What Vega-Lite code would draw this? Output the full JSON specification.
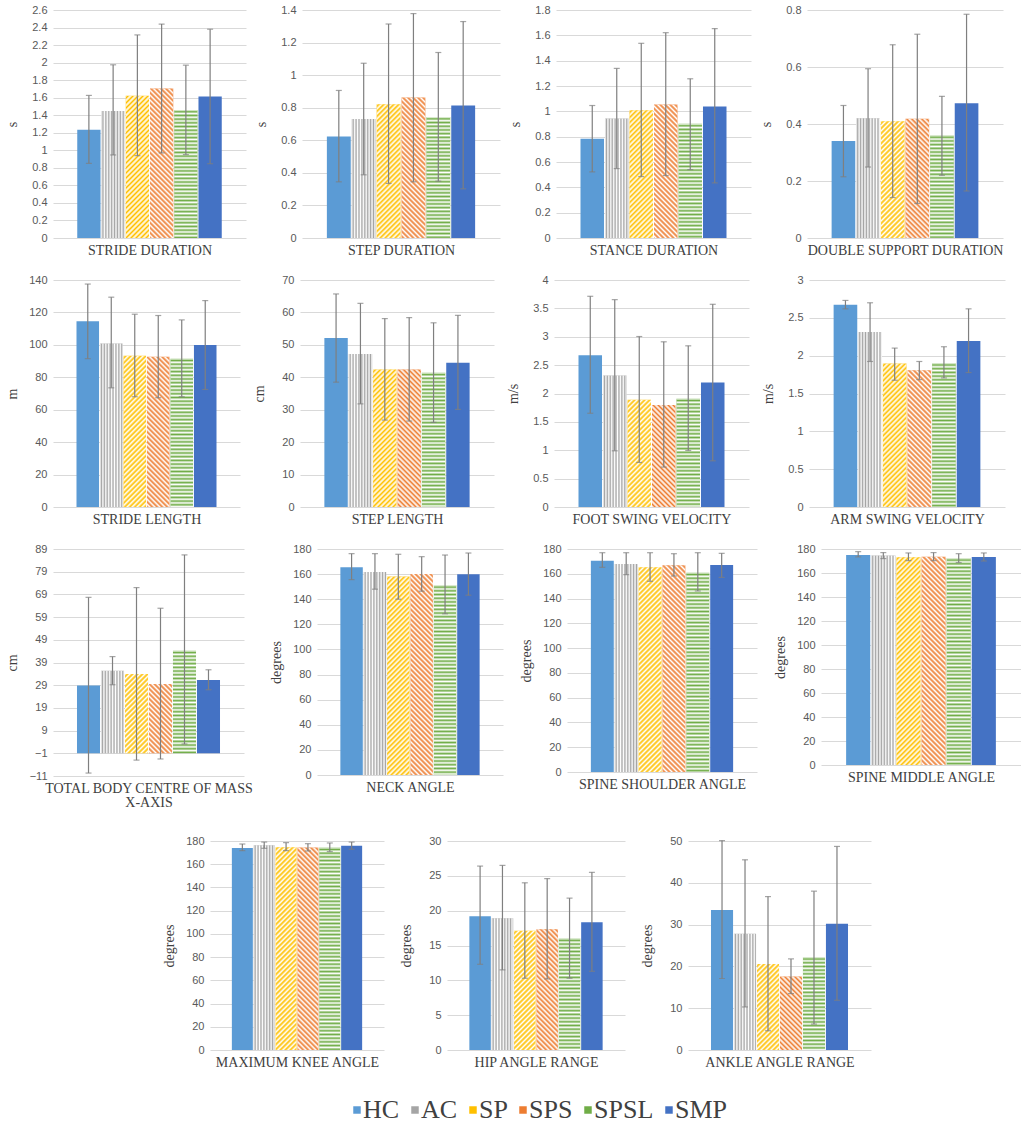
{
  "$schema": "https://vega.github.io/schema/vega-lite/v6.json",
  "background": "white",
  "padding": {"left": 5, "top": 4, "right": 5, "bottom": 5},
  "params": [
    {
      "name": "st",
      "value": [
        {"offset":0,"color":"#fff"},{"offset":0.005,"color":"rgba(255,255,255,0)"},{"offset":0.01,"color":"#fff"},{"offset":0.015,"color":"rgba(255,255,255,0)"},{"offset":0.02,"color":"#fff"},{"offset":0.025,"color":"rgba(255,255,255,0)"},{"offset":0.03,"color":"#fff"},{"offset":0.035,"color":"rgba(255,255,255,0)"},{"offset":0.04,"color":"#fff"},{"offset":0.045,"color":"rgba(255,255,255,0)"},
        {"offset":0.05,"color":"#fff"},{"offset":0.055,"color":"rgba(255,255,255,0)"},{"offset":0.06,"color":"#fff"},{"offset":0.065,"color":"rgba(255,255,255,0)"},{"offset":0.07,"color":"#fff"},{"offset":0.075,"color":"rgba(255,255,255,0)"},{"offset":0.08,"color":"#fff"},{"offset":0.085,"color":"rgba(255,255,255,0)"},{"offset":0.09,"color":"#fff"},{"offset":0.095,"color":"rgba(255,255,255,0)"},
        {"offset":0.1,"color":"#fff"},{"offset":0.105,"color":"rgba(255,255,255,0)"},{"offset":0.11,"color":"#fff"},{"offset":0.115,"color":"rgba(255,255,255,0)"},{"offset":0.12,"color":"#fff"},{"offset":0.125,"color":"rgba(255,255,255,0)"},{"offset":0.13,"color":"#fff"},{"offset":0.135,"color":"rgba(255,255,255,0)"},{"offset":0.14,"color":"#fff"},{"offset":0.145,"color":"rgba(255,255,255,0)"},
        {"offset":0.15,"color":"#fff"},{"offset":0.155,"color":"rgba(255,255,255,0)"},{"offset":0.16,"color":"#fff"},{"offset":0.165,"color":"rgba(255,255,255,0)"},{"offset":0.17,"color":"#fff"},{"offset":0.175,"color":"rgba(255,255,255,0)"},{"offset":0.18,"color":"#fff"},{"offset":0.185,"color":"rgba(255,255,255,0)"},{"offset":0.19,"color":"#fff"},{"offset":0.195,"color":"rgba(255,255,255,0)"},
        {"offset":0.2,"color":"#fff"},{"offset":0.205,"color":"rgba(255,255,255,0)"},{"offset":0.21,"color":"#fff"},{"offset":0.215,"color":"rgba(255,255,255,0)"},{"offset":0.22,"color":"#fff"},{"offset":0.225,"color":"rgba(255,255,255,0)"},{"offset":0.23,"color":"#fff"},{"offset":0.235,"color":"rgba(255,255,255,0)"},{"offset":0.24,"color":"#fff"},{"offset":0.245,"color":"rgba(255,255,255,0)"},
        {"offset":0.25,"color":"#fff"},{"offset":0.255,"color":"rgba(255,255,255,0)"},{"offset":0.26,"color":"#fff"},{"offset":0.265,"color":"rgba(255,255,255,0)"},{"offset":0.27,"color":"#fff"},{"offset":0.275,"color":"rgba(255,255,255,0)"},{"offset":0.28,"color":"#fff"},{"offset":0.285,"color":"rgba(255,255,255,0)"},{"offset":0.29,"color":"#fff"},{"offset":0.295,"color":"rgba(255,255,255,0)"},
        {"offset":0.3,"color":"#fff"},{"offset":0.305,"color":"rgba(255,255,255,0)"},{"offset":0.31,"color":"#fff"},{"offset":0.315,"color":"rgba(255,255,255,0)"},{"offset":0.32,"color":"#fff"},{"offset":0.325,"color":"rgba(255,255,255,0)"},{"offset":0.33,"color":"#fff"},{"offset":0.335,"color":"rgba(255,255,255,0)"},{"offset":0.34,"color":"#fff"},{"offset":0.345,"color":"rgba(255,255,255,0)"},
        {"offset":0.35,"color":"#fff"},{"offset":0.355,"color":"rgba(255,255,255,0)"},{"offset":0.36,"color":"#fff"},{"offset":0.365,"color":"rgba(255,255,255,0)"},{"offset":0.37,"color":"#fff"},{"offset":0.375,"color":"rgba(255,255,255,0)"},{"offset":0.38,"color":"#fff"},{"offset":0.385,"color":"rgba(255,255,255,0)"},{"offset":0.39,"color":"#fff"},{"offset":0.395,"color":"rgba(255,255,255,0)"},
        {"offset":0.4,"color":"#fff"},{"offset":0.405,"color":"rgba(255,255,255,0)"},{"offset":0.41,"color":"#fff"},{"offset":0.415,"color":"rgba(255,255,255,0)"},{"offset":0.42,"color":"#fff"},{"offset":0.425,"color":"rgba(255,255,255,0)"},{"offset":0.43,"color":"#fff"},{"offset":0.435,"color":"rgba(255,255,255,0)"},{"offset":0.44,"color":"#fff"},{"offset":0.445,"color":"rgba(255,255,255,0)"},
        {"offset":0.45,"color":"#fff"},{"offset":0.455,"color":"rgba(255,255,255,0)"},{"offset":0.46,"color":"#fff"},{"offset":0.465,"color":"rgba(255,255,255,0)"},{"offset":0.47,"color":"#fff"},{"offset":0.475,"color":"rgba(255,255,255,0)"},{"offset":0.48,"color":"#fff"},{"offset":0.485,"color":"rgba(255,255,255,0)"},{"offset":0.49,"color":"#fff"},{"offset":0.495,"color":"rgba(255,255,255,0)"},
        {"offset":0.5,"color":"#fff"},{"offset":0.505,"color":"rgba(255,255,255,0)"},{"offset":0.51,"color":"#fff"},{"offset":0.515,"color":"rgba(255,255,255,0)"},{"offset":0.52,"color":"#fff"},{"offset":0.525,"color":"rgba(255,255,255,0)"},{"offset":0.53,"color":"#fff"},{"offset":0.535,"color":"rgba(255,255,255,0)"},{"offset":0.54,"color":"#fff"},{"offset":0.545,"color":"rgba(255,255,255,0)"},
        {"offset":0.55,"color":"#fff"},{"offset":0.555,"color":"rgba(255,255,255,0)"},{"offset":0.56,"color":"#fff"},{"offset":0.565,"color":"rgba(255,255,255,0)"},{"offset":0.57,"color":"#fff"},{"offset":0.575,"color":"rgba(255,255,255,0)"},{"offset":0.58,"color":"#fff"},{"offset":0.585,"color":"rgba(255,255,255,0)"},{"offset":0.59,"color":"#fff"},{"offset":0.595,"color":"rgba(255,255,255,0)"},
        {"offset":0.6,"color":"#fff"},{"offset":0.605,"color":"rgba(255,255,255,0)"},{"offset":0.61,"color":"#fff"},{"offset":0.615,"color":"rgba(255,255,255,0)"},{"offset":0.62,"color":"#fff"},{"offset":0.625,"color":"rgba(255,255,255,0)"},{"offset":0.63,"color":"#fff"},{"offset":0.635,"color":"rgba(255,255,255,0)"},{"offset":0.64,"color":"#fff"},{"offset":0.645,"color":"rgba(255,255,255,0)"},
        {"offset":0.65,"color":"#fff"},{"offset":0.655,"color":"rgba(255,255,255,0)"},{"offset":0.66,"color":"#fff"},{"offset":0.665,"color":"rgba(255,255,255,0)"},{"offset":0.67,"color":"#fff"},{"offset":0.675,"color":"rgba(255,255,255,0)"},{"offset":0.68,"color":"#fff"},{"offset":0.685,"color":"rgba(255,255,255,0)"},{"offset":0.69,"color":"#fff"},{"offset":0.695,"color":"rgba(255,255,255,0)"},
        {"offset":0.7,"color":"#fff"},{"offset":0.705,"color":"rgba(255,255,255,0)"},{"offset":0.71,"color":"#fff"},{"offset":0.715,"color":"rgba(255,255,255,0)"},{"offset":0.72,"color":"#fff"},{"offset":0.725,"color":"rgba(255,255,255,0)"},{"offset":0.73,"color":"#fff"},{"offset":0.735,"color":"rgba(255,255,255,0)"},{"offset":0.74,"color":"#fff"},{"offset":0.745,"color":"rgba(255,255,255,0)"},
        {"offset":0.75,"color":"#fff"},{"offset":0.755,"color":"rgba(255,255,255,0)"},{"offset":0.76,"color":"#fff"},{"offset":0.765,"color":"rgba(255,255,255,0)"},{"offset":0.77,"color":"#fff"},{"offset":0.775,"color":"rgba(255,255,255,0)"},{"offset":0.78,"color":"#fff"},{"offset":0.785,"color":"rgba(255,255,255,0)"},{"offset":0.79,"color":"#fff"},{"offset":0.795,"color":"rgba(255,255,255,0)"},
        {"offset":0.8,"color":"#fff"},{"offset":0.805,"color":"rgba(255,255,255,0)"},{"offset":0.81,"color":"#fff"},{"offset":0.815,"color":"rgba(255,255,255,0)"},{"offset":0.82,"color":"#fff"},{"offset":0.825,"color":"rgba(255,255,255,0)"},{"offset":0.83,"color":"#fff"},{"offset":0.835,"color":"rgba(255,255,255,0)"},{"offset":0.84,"color":"#fff"},{"offset":0.845,"color":"rgba(255,255,255,0)"},
        {"offset":0.85,"color":"#fff"},{"offset":0.855,"color":"rgba(255,255,255,0)"},{"offset":0.86,"color":"#fff"},{"offset":0.865,"color":"rgba(255,255,255,0)"},{"offset":0.87,"color":"#fff"},{"offset":0.875,"color":"rgba(255,255,255,0)"},{"offset":0.88,"color":"#fff"},{"offset":0.885,"color":"rgba(255,255,255,0)"},{"offset":0.89,"color":"#fff"},{"offset":0.895,"color":"rgba(255,255,255,0)"},
        {"offset":0.9,"color":"#fff"},{"offset":0.905,"color":"rgba(255,255,255,0)"},{"offset":0.91,"color":"#fff"},{"offset":0.915,"color":"rgba(255,255,255,0)"},{"offset":0.92,"color":"#fff"},{"offset":0.925,"color":"rgba(255,255,255,0)"},{"offset":0.93,"color":"#fff"},{"offset":0.935,"color":"rgba(255,255,255,0)"},{"offset":0.94,"color":"#fff"},{"offset":0.945,"color":"rgba(255,255,255,0)"},
        {"offset":0.95,"color":"#fff"},{"offset":0.955,"color":"rgba(255,255,255,0)"},{"offset":0.96,"color":"#fff"},{"offset":0.965,"color":"rgba(255,255,255,0)"},{"offset":0.97,"color":"#fff"},{"offset":0.975,"color":"rgba(255,255,255,0)"},{"offset":0.98,"color":"#fff"},{"offset":0.985,"color":"rgba(255,255,255,0)"},{"offset":0.99,"color":"#fff"},{"offset":0.995,"color":"rgba(255,255,255,0)"},
        {"offset":1,"color":"#fff"}
      ]
    }
  ],
  "config": {
    "view": {"stroke": null},
    "axisY": {"domain": false, "ticks": false, "grid": true, "gridColor": "#d9d9d9", "tickCount": 50, "labelColor": "#595959", "labelFont": "Liberation Sans", "labelFontSize": 11, "labelPadding": 6, "labelOverlap": false, "minExtent": 24, "maxExtent": 24, "titleFont": "Liberation Serif", "titleFontSize": 14, "titleFontWeight": "normal", "titleColor": "#404040", "titlePadding": 10},
    "axisX": {"domain": false, "ticks": false, "labels": false, "grid": false, "minExtent": 0, "maxExtent": 0, "titleFont": "Liberation Serif", "titleFontSize": 14, "titleFontWeight": "normal", "titleColor": "#404040", "titlePadding": 5, "titleLineHeight": 14},
    "legend": {"orient": "none", "direction": "horizontal", "gridAlign": "none", "symbolType": "square", "symbolSize": 56, "symbolStrokeWidth": 0, "labelFont": "Liberation Serif", "labelFontSize": 26, "labelColor": "#404040", "labelOffset": -7, "columnPadding": 2}
  },
  "spacing": 26,
  "resolve": {"scale": {"x": "independent", "y": "independent"}},
  "vconcat": [
    {
      "spacing": 17,
      "resolve": {"scale": {"x": "independent", "y": "independent"}},
      "vconcat": [
    {
      "spacing": 8,
      "resolve": {"scale": {"x": "independent", "y": "independent"}},
      "hconcat": [
        {
          "width": 193, "height": 228,
          "data": {"values": [
            {"g":"HC","m":1.235,"lo":0.851,"hi":1.626},
            {"g":"AC","m":1.449,"lo":0.947,"hi":1.975},
            {"g":"SP","m":1.622,"lo":0.939,"hi":2.316},
            {"g":"SPS","m":1.706,"lo":0.970,"hi":2.439},
            {"g":"SPSL","m":1.461,"lo":0.951,"hi":1.971},
            {"g":"SMP","m":1.614,"lo":0.847,"hi":2.381}
          ]},
          "encoding": {"x": {"field":"g","type":"nominal","scale":{"domain":["HC","AC","SP","SPS","SPSL","SMP"],"paddingInner":0.04,"paddingOuter":1},"axis":{"title":"STRIDE DURATION"}}},
          "layer": [
            {"mark":"bar","encoding":{"y":{"field":"m","type":"quantitative","scale":{"domain":[0,2.6],"nice":false},"axis":{"title":"s","format":".10~g","values":[0,0.2,0.4,0.6,0.8,1,1.2,1.4,1.6,1.8,2,2.2,2.4,2.6]}},
              "color":{"field":"g","type":"nominal","scale":{"domain":["HC","AC","SP","SPS","SPSL","SMP"],"range":["#5b9bd5","#a5a5a5","#ffc000","#ed7d31","#70ad47","#4472c4"]},
                "legend":{"orient":"none","legendX":291,"legendY":1087,"direction":"horizontal","title":null,"gridAlign":"none","symbolType":"square","symbolSize":56,"symbolStrokeWidth":0,"labelFont":"Liberation Serif","labelFontSize":26,"labelColor":"#404040","labelOffset":-7,"columnPadding":2}}}},
            {"mark":{"type":"bar","fill":{"expr":"datum.g=='AC'?{gradient:'linear',x1:0,y1:0,x2:12.457,y2:0,stops:st}:datum.g=='SPSL'?{gradient:'linear',x1:0,y1:0,x2:0,y2:370/(datum.m*87.69),stops:st}:datum.g=='SP'?{gradient:'linear',x1:0,y1:0,x2:11640/(541.96+pow(datum.m*87.69,2)),y2:500*(datum.m*87.69)/(541.96+pow(datum.m*87.69,2)),stops:st}:datum.g=='SPS'?{gradient:'linear',x1:1,y1:0,x2:1-11640/(541.96+pow(datum.m*87.69,2)),y2:500*(datum.m*87.69)/(541.96+pow(datum.m*87.69,2)),stops:st}:'transparent'"}},
              "encoding":{"y":{"field":"m","type":"quantitative","scale":{"domain":[0,2.6],"nice":false}}}},
            {"mark":{"type":"rule","color":"#7f7f7f","strokeWidth":1.2},"encoding":{"y":{"field":"lo","type":"quantitative","scale":{"domain":[0,2.6],"nice":false}},"y2":{"field":"hi"}}},
            {"mark":{"type":"tick","color":"#7f7f7f","size":6,"thickness":1.2},"encoding":{"y":{"field":"lo","type":"quantitative","scale":{"domain":[0,2.6],"nice":false}}}},
            {"mark":{"type":"tick","color":"#7f7f7f","size":6,"thickness":1.2},"encoding":{"y":{"field":"hi","type":"quantitative","scale":{"domain":[0,2.6],"nice":false}}}}
          ]
        },
        {
          "width": 198, "height": 228,
          "data": {"values": [
            {"g":"HC","m":0.624,"lo":0.345,"hi":0.906},
            {"g":"AC","m":0.731,"lo":0.388,"hi":1.073},
            {"g":"SP","m":0.822,"lo":0.335,"hi":1.314},
            {"g":"SPS","m":0.863,"lo":0.345,"hi":1.378},
            {"g":"SPSL","m":0.743,"lo":0.349,"hi":1.139},
            {"g":"SMP","m":0.814,"lo":0.302,"hi":1.329}
          ]},
          "encoding": {"x": {"field":"g","type":"nominal","scale":{"domain":["HC","AC","SP","SPS","SPSL","SMP"],"paddingInner":0.04,"paddingOuter":1},"axis":{"title":"STEP DURATION"}}},
          "layer": [
            {"mark":"bar","encoding":{"y":{"field":"m","type":"quantitative","scale":{"domain":[0,1.4],"nice":false},"axis":{"title":"s","format":".10~g","values":[0,0.2,0.4,0.6,0.8,1,1.2,1.4]}},
              "color":{"field":"g","type":"nominal","scale":{"domain":["HC","AC","SP","SPS","SPSL","SMP"],"range":["#5b9bd5","#a5a5a5","#ffc000","#ed7d31","#70ad47","#4472c4"]},"legend":null}}},
            {"mark":{"type":"bar","fill":{"expr":"datum.g=='AC'?{gradient:'linear',x1:0,y1:0,x2:12.144,y2:0,stops:st}:datum.g=='SPSL'?{gradient:'linear',x1:0,y1:0,x2:0,y2:370/(datum.m*162.86),stops:st}:datum.g=='SP'?{gradient:'linear',x1:0,y1:0,x2:11940/(570.25+pow(datum.m*162.86,2)),y2:500*(datum.m*162.86)/(570.25+pow(datum.m*162.86,2)),stops:st}:datum.g=='SPS'?{gradient:'linear',x1:1,y1:0,x2:1-11940/(570.25+pow(datum.m*162.86,2)),y2:500*(datum.m*162.86)/(570.25+pow(datum.m*162.86,2)),stops:st}:'transparent'"}},
              "encoding":{"y":{"field":"m","type":"quantitative","scale":{"domain":[0,1.4],"nice":false}}}},
            {"mark":{"type":"rule","color":"#7f7f7f","strokeWidth":1.2},"encoding":{"y":{"field":"lo","type":"quantitative","scale":{"domain":[0,1.4],"nice":false}},"y2":{"field":"hi"}}},
            {"mark":{"type":"tick","color":"#7f7f7f","size":6,"thickness":1.2},"encoding":{"y":{"field":"lo","type":"quantitative","scale":{"domain":[0,1.4],"nice":false}}}},
            {"mark":{"type":"tick","color":"#7f7f7f","size":6,"thickness":1.2},"encoding":{"y":{"field":"hi","type":"quantitative","scale":{"domain":[0,1.4],"nice":false}}}}
          ]
        },
        {
          "width": 195, "height": 228,
          "data": {"values": [
            {"g":"HC","m":0.783,"lo":0.522,"hi":1.046},
            {"g":"AC","m":0.944,"lo":0.548,"hi":1.339},
            {"g":"SP","m":1.009,"lo":0.485,"hi":1.537},
            {"g":"SPS","m":1.054,"lo":0.493,"hi":1.621},
            {"g":"SPSL","m":0.901,"lo":0.540,"hi":1.257},
            {"g":"SMP","m":1.038,"lo":0.435,"hi":1.653}
          ]},
          "encoding": {"x": {"field":"g","type":"nominal","scale":{"domain":["HC","AC","SP","SPS","SPSL","SMP"],"paddingInner":0.04,"paddingOuter":1},"axis":{"title":"STANCE DURATION"}}},
          "layer": [
            {"mark":"bar","encoding":{"y":{"field":"m","type":"quantitative","scale":{"domain":[0,1.8],"nice":false},"axis":{"title":"s","format":".10~g","values":[0,0.2,0.4,0.6,0.8,1,1.2,1.4,1.6,1.8]}},
              "color":{"field":"g","type":"nominal","scale":{"domain":["HC","AC","SP","SPS","SPSL","SMP"],"range":["#5b9bd5","#a5a5a5","#ffc000","#ed7d31","#70ad47","#4472c4"]},"legend":null}}},
            {"mark":{"type":"bar","fill":{"expr":"datum.g=='AC'?{gradient:'linear',x1:0,y1:0,x2:12.33,y2:0,stops:st}:datum.g=='SPSL'?{gradient:'linear',x1:0,y1:0,x2:0,y2:370/(datum.m*126.67),stops:st}:datum.g=='SP'?{gradient:'linear',x1:0,y1:0,x2:11760/(553.19+pow(datum.m*126.67,2)),y2:500*(datum.m*126.67)/(553.19+pow(datum.m*126.67,2)),stops:st}:datum.g=='SPS'?{gradient:'linear',x1:1,y1:0,x2:1-11760/(553.19+pow(datum.m*126.67,2)),y2:500*(datum.m*126.67)/(553.19+pow(datum.m*126.67,2)),stops:st}:'transparent'"}},
              "encoding":{"y":{"field":"m","type":"quantitative","scale":{"domain":[0,1.8],"nice":false}}}},
            {"mark":{"type":"rule","color":"#7f7f7f","strokeWidth":1.2},"encoding":{"y":{"field":"lo","type":"quantitative","scale":{"domain":[0,1.8],"nice":false}},"y2":{"field":"hi"}}},
            {"mark":{"type":"tick","color":"#7f7f7f","size":6,"thickness":1.2},"encoding":{"y":{"field":"lo","type":"quantitative","scale":{"domain":[0,1.8],"nice":false}}}},
            {"mark":{"type":"tick","color":"#7f7f7f","size":6,"thickness":1.2},"encoding":{"y":{"field":"hi","type":"quantitative","scale":{"domain":[0,1.8],"nice":false}}}}
          ]
        },
        {
          "width": 196, "height": 228,
          "data": {"values": [
            {"g":"HC","m":0.340,"lo":0.215,"hi":0.465},
            {"g":"AC","m":0.420,"lo":0.249,"hi":0.594},
            {"g":"SP","m":0.410,"lo":0.142,"hi":0.678},
            {"g":"SPS","m":0.418,"lo":0.121,"hi":0.715},
            {"g":"SPSL","m":0.360,"lo":0.220,"hi":0.497},
            {"g":"SMP","m":0.473,"lo":0.165,"hi":0.785}
          ]},
          "encoding": {"x": {"field":"g","type":"nominal","scale":{"domain":["HC","AC","SP","SPS","SPSL","SMP"],"paddingInner":0.04,"paddingOuter":1},"axis":{"title":"DOUBLE SUPPORT DURATION"}}},
          "layer": [
            {"mark":"bar","encoding":{"y":{"field":"m","type":"quantitative","scale":{"domain":[0,0.8],"nice":false},"axis":{"title":"s","format":".10~g","values":[0,0.2,0.4,0.6,0.8]}},
              "color":{"field":"g","type":"nominal","scale":{"domain":["HC","AC","SP","SPS","SPSL","SMP"],"range":["#5b9bd5","#a5a5a5","#ffc000","#ed7d31","#70ad47","#4472c4"]},"legend":null}}},
            {"mark":{"type":"bar","fill":{"expr":"datum.g=='AC'?{gradient:'linear',x1:0,y1:0,x2:12.267,y2:0,stops:st}:datum.g=='SPSL'?{gradient:'linear',x1:0,y1:0,x2:0,y2:370/(datum.m*285),stops:st}:datum.g=='SP'?{gradient:'linear',x1:0,y1:0,x2:11820/(558.85+pow(datum.m*285,2)),y2:500*(datum.m*285)/(558.85+pow(datum.m*285,2)),stops:st}:datum.g=='SPS'?{gradient:'linear',x1:1,y1:0,x2:1-11820/(558.85+pow(datum.m*285,2)),y2:500*(datum.m*285)/(558.85+pow(datum.m*285,2)),stops:st}:'transparent'"}},
              "encoding":{"y":{"field":"m","type":"quantitative","scale":{"domain":[0,0.8],"nice":false}}}},
            {"mark":{"type":"rule","color":"#7f7f7f","strokeWidth":1.2},"encoding":{"y":{"field":"lo","type":"quantitative","scale":{"domain":[0,0.8],"nice":false}},"y2":{"field":"hi"}}},
            {"mark":{"type":"tick","color":"#7f7f7f","size":6,"thickness":1.2},"encoding":{"y":{"field":"lo","type":"quantitative","scale":{"domain":[0,0.8],"nice":false}}}},
            {"mark":{"type":"tick","color":"#7f7f7f","size":6,"thickness":1.2},"encoding":{"y":{"field":"hi","type":"quantitative","scale":{"domain":[0,0.8],"nice":false}}}}
          ]
        }
      ]
    },
    {
      "spacing": 12,
      "resolve": {"scale": {"x": "independent", "y": "independent"}},
      "hconcat": [
        {
          "width": 187, "height": 227,
          "data": {"values": [
            {"g":"HC","m":114.6,"lo":91.5,"hi":137.5},
            {"g":"AC","m":100.9,"lo":73.5,"hi":129.4},
            {"g":"SP","m":93.3,"lo":68.0,"hi":118.9},
            {"g":"SPS","m":92.7,"lo":67.4,"hi":118.1},
            {"g":"SPSL","m":91.5,"lo":68.0,"hi":115.4},
            {"g":"SMP","m":99.9,"lo":72.5,"hi":127.3}
          ]},
          "encoding": {"x": {"field":"g","type":"nominal","scale":{"domain":["HC","AC","SP","SPS","SPSL","SMP"],"paddingInner":0.04,"paddingOuter":1},"axis":{"title":"STRIDE LENGTH"}}},
          "layer": [
            {"mark":"bar","encoding":{"y":{"field":"m","type":"quantitative","scale":{"domain":[0,140],"nice":false},"axis":{"title":"m","format":".10~g","values":[0,20,40,60,80,100,120,140]}},
              "color":{"field":"g","type":"nominal","scale":{"domain":["HC","AC","SP","SPS","SPSL","SMP"],"range":["#5b9bd5","#a5a5a5","#ffc000","#ed7d31","#70ad47","#4472c4"]},"legend":null}}},
            {"mark":{"type":"bar","fill":{"expr":"datum.g=='AC'?{gradient:'linear',x1:0,y1:0,x2:12.86,y2:0,stops:st}:datum.g=='SPSL'?{gradient:'linear',x1:0,y1:0,x2:0,y2:370/(datum.m*1.6214),stops:st}:datum.g=='SP'?{gradient:'linear',x1:0,y1:0,x2:11275/(508.5+pow(datum.m*1.6214,2)),y2:500*(datum.m*1.6214)/(508.5+pow(datum.m*1.6214,2)),stops:st}:datum.g=='SPS'?{gradient:'linear',x1:1,y1:0,x2:1-11275/(508.5+pow(datum.m*1.6214,2)),y2:500*(datum.m*1.6214)/(508.5+pow(datum.m*1.6214,2)),stops:st}:'transparent'"}},
              "encoding":{"y":{"field":"m","type":"quantitative","scale":{"domain":[0,140],"nice":false}}}},
            {"mark":{"type":"rule","color":"#7f7f7f","strokeWidth":1.2},"encoding":{"y":{"field":"lo","type":"quantitative","scale":{"domain":[0,140],"nice":false}},"y2":{"field":"hi"}}},
            {"mark":{"type":"tick","color":"#7f7f7f","size":6,"thickness":1.2},"encoding":{"y":{"field":"lo","type":"quantitative","scale":{"domain":[0,140],"nice":false}}}},
            {"mark":{"type":"tick","color":"#7f7f7f","size":6,"thickness":1.2},"encoding":{"y":{"field":"hi","type":"quantitative","scale":{"domain":[0,140],"nice":false}}}}
          ]
        },
        {
          "width": 194, "height": 227,
          "data": {"values": [
            {"g":"HC","m":52.1,"lo":38.5,"hi":65.7},
            {"g":"AC","m":47.2,"lo":31.8,"hi":62.8},
            {"g":"SP","m":42.4,"lo":26.8,"hi":58.1},
            {"g":"SPS","m":42.4,"lo":26.5,"hi":58.4},
            {"g":"SPSL","m":41.4,"lo":26.1,"hi":56.8},
            {"g":"SMP","m":44.5,"lo":30.1,"hi":59.1}
          ]},
          "encoding": {"x": {"field":"g","type":"nominal","scale":{"domain":["HC","AC","SP","SPS","SPSL","SMP"],"paddingInner":0.04,"paddingOuter":1},"axis":{"title":"STEP LENGTH"}}},
          "layer": [
            {"mark":"bar","encoding":{"y":{"field":"m","type":"quantitative","scale":{"domain":[0,70],"nice":false},"axis":{"title":"cm","format":".10~g","values":[0,10,20,30,40,50,60,70]}},
              "color":{"field":"g","type":"nominal","scale":{"domain":["HC","AC","SP","SPS","SPSL","SMP"],"range":["#5b9bd5","#a5a5a5","#ffc000","#ed7d31","#70ad47","#4472c4"]},"legend":null}}},
            {"mark":{"type":"bar","fill":{"expr":"datum.g=='AC'?{gradient:'linear',x1:0,y1:0,x2:12.393,y2:0,stops:st}:datum.g=='SPSL'?{gradient:'linear',x1:0,y1:0,x2:0,y2:370/(datum.m*3.243),stops:st}:datum.g=='SP'?{gradient:'linear',x1:0,y1:0,x2:11700/(547.56+pow(datum.m*3.243,2)),y2:500*(datum.m*3.243)/(547.56+pow(datum.m*3.243,2)),stops:st}:datum.g=='SPS'?{gradient:'linear',x1:1,y1:0,x2:1-11700/(547.56+pow(datum.m*3.243,2)),y2:500*(datum.m*3.243)/(547.56+pow(datum.m*3.243,2)),stops:st}:'transparent'"}},
              "encoding":{"y":{"field":"m","type":"quantitative","scale":{"domain":[0,70],"nice":false}}}},
            {"mark":{"type":"rule","color":"#7f7f7f","strokeWidth":1.2},"encoding":{"y":{"field":"lo","type":"quantitative","scale":{"domain":[0,70],"nice":false}},"y2":{"field":"hi"}}},
            {"mark":{"type":"tick","color":"#7f7f7f","size":6,"thickness":1.2},"encoding":{"y":{"field":"lo","type":"quantitative","scale":{"domain":[0,70],"nice":false}}}},
            {"mark":{"type":"tick","color":"#7f7f7f","size":6,"thickness":1.2},"encoding":{"y":{"field":"hi","type":"quantitative","scale":{"domain":[0,70],"nice":false}}}}
          ]
        },
        {
          "width": 195, "height": 227,
          "data": {"values": [
            {"g":"HC","m":2.676,"lo":1.652,"hi":3.713},
            {"g":"AC","m":2.319,"lo":0.990,"hi":3.654},
            {"g":"SP","m":1.892,"lo":0.785,"hi":3.004},
            {"g":"SPS","m":1.798,"lo":0.703,"hi":2.911},
            {"g":"SPSL","m":1.909,"lo":0.996,"hi":2.840},
            {"g":"SMP","m":2.196,"lo":0.814,"hi":3.572}
          ]},
          "encoding": {"x": {"field":"g","type":"nominal","scale":{"domain":["HC","AC","SP","SPS","SPSL","SMP"],"paddingInner":0.04,"paddingOuter":1},"axis":{"title":"FOOT SWING VELOCITY"}}},
          "layer": [
            {"mark":"bar","encoding":{"y":{"field":"m","type":"quantitative","scale":{"domain":[0,4],"nice":false},"axis":{"title":"m/s","format":".10~g","values":[0,0.5,1,1.5,2,2.5,3,3.5,4]}},
              "color":{"field":"g","type":"nominal","scale":{"domain":["HC","AC","SP","SPS","SPSL","SMP"],"range":["#5b9bd5","#a5a5a5","#ffc000","#ed7d31","#70ad47","#4472c4"]},"legend":null}}},
            {"mark":{"type":"bar","fill":{"expr":"datum.g=='AC'?{gradient:'linear',x1:0,y1:0,x2:12.33,y2:0,stops:st}:datum.g=='SPSL'?{gradient:'linear',x1:0,y1:0,x2:0,y2:370/(datum.m*56.75),stops:st}:datum.g=='SP'?{gradient:'linear',x1:0,y1:0,x2:11760/(553.19+pow(datum.m*56.75,2)),y2:500*(datum.m*56.75)/(553.19+pow(datum.m*56.75,2)),stops:st}:datum.g=='SPS'?{gradient:'linear',x1:1,y1:0,x2:1-11760/(553.19+pow(datum.m*56.75,2)),y2:500*(datum.m*56.75)/(553.19+pow(datum.m*56.75,2)),stops:st}:'transparent'"}},
              "encoding":{"y":{"field":"m","type":"quantitative","scale":{"domain":[0,4],"nice":false}}}},
            {"mark":{"type":"rule","color":"#7f7f7f","strokeWidth":1.2},"encoding":{"y":{"field":"lo","type":"quantitative","scale":{"domain":[0,4],"nice":false}},"y2":{"field":"hi"}}},
            {"mark":{"type":"tick","color":"#7f7f7f","size":6,"thickness":1.2},"encoding":{"y":{"field":"lo","type":"quantitative","scale":{"domain":[0,4],"nice":false}}}},
            {"mark":{"type":"tick","color":"#7f7f7f","size":6,"thickness":1.2},"encoding":{"y":{"field":"hi","type":"quantitative","scale":{"domain":[0,4],"nice":false}}}}
          ]
        },
        {
          "width": 196, "height": 227,
          "data": {"values": [
            {"g":"HC","m":2.672,"lo":2.619,"hi":2.730},
            {"g":"AC","m":2.313,"lo":1.923,"hi":2.699},
            {"g":"SP","m":1.897,"lo":1.675,"hi":2.100},
            {"g":"SPS","m":1.808,"lo":1.684,"hi":1.923},
            {"g":"SPSL","m":1.901,"lo":1.706,"hi":2.118},
            {"g":"SMP","m":2.193,"lo":1.777,"hi":2.619}
          ]},
          "encoding": {"x": {"field":"g","type":"nominal","scale":{"domain":["HC","AC","SP","SPS","SPSL","SMP"],"paddingInner":0.04,"paddingOuter":1},"axis":{"title":"ARM SWING VELOCITY"}}},
          "layer": [
            {"mark":"bar","encoding":{"y":{"field":"m","type":"quantitative","scale":{"domain":[0,3],"nice":false},"axis":{"title":"m/s","format":".10~g","values":[0,0.5,1,1.5,2,2.5,3]}},
              "color":{"field":"g","type":"nominal","scale":{"domain":["HC","AC","SP","SPS","SPSL","SMP"],"range":["#5b9bd5","#a5a5a5","#ffc000","#ed7d31","#70ad47","#4472c4"]},"legend":null}}},
            {"mark":{"type":"bar","fill":{"expr":"datum.g=='AC'?{gradient:'linear',x1:0,y1:0,x2:12.267,y2:0,stops:st}:datum.g=='SPSL'?{gradient:'linear',x1:0,y1:0,x2:0,y2:370/(datum.m*75.67),stops:st}:datum.g=='SP'?{gradient:'linear',x1:0,y1:0,x2:11820/(558.85+pow(datum.m*75.67,2)),y2:500*(datum.m*75.67)/(558.85+pow(datum.m*75.67,2)),stops:st}:datum.g=='SPS'?{gradient:'linear',x1:1,y1:0,x2:1-11820/(558.85+pow(datum.m*75.67,2)),y2:500*(datum.m*75.67)/(558.85+pow(datum.m*75.67,2)),stops:st}:'transparent'"}},
              "encoding":{"y":{"field":"m","type":"quantitative","scale":{"domain":[0,3],"nice":false}}}},
            {"mark":{"type":"rule","color":"#7f7f7f","strokeWidth":1.2},"encoding":{"y":{"field":"lo","type":"quantitative","scale":{"domain":[0,3],"nice":false}},"y2":{"field":"hi"}}},
            {"mark":{"type":"tick","color":"#7f7f7f","size":6,"thickness":1.2},"encoding":{"y":{"field":"lo","type":"quantitative","scale":{"domain":[0,3],"nice":false}}}},
            {"mark":{"type":"tick","color":"#7f7f7f","size":6,"thickness":1.2},"encoding":{"y":{"field":"hi","type":"quantitative","scale":{"domain":[0,3],"nice":false}}}}
          ]
        }
      ]
    },
    {
      "spacing": 16,
      "resolve": {"scale": {"x": "independent", "y": "independent"}},
      "hconcat": [
        {
          "width": 191, "height": 227,
          "data": {"values": [
            {"g":"HC","m":28.9,"lo":-9.7,"hi":67.7},
            {"g":"AC","m":35.4,"lo":29.2,"hi":41.6},
            {"g":"SP","m":33.9,"lo":-4.0,"hi":72.0},
            {"g":"SPS","m":29.5,"lo":-3.5,"hi":62.9},
            {"g":"SPSL","m":44.2,"lo":3.1,"hi":86.4},
            {"g":"SMP","m":31.3,"lo":27.0,"hi":35.8}
          ]},
          "encoding": {"x": {"field":"g","type":"nominal","scale":{"domain":["HC","AC","SP","SPS","SPSL","SMP"],"paddingInner":0.04,"paddingOuter":1},"axis":{"title":["TOTAL BODY CENTRE OF MASS","X-AXIS"]}}},
          "layer": [
            {"mark":"bar","encoding":{"y":{"field":"m","type":"quantitative","scale":{"domain":[-11,89],"nice":false,"zero":false},"axis":{"title":"cm","format":".10~g","values":[-11,-1,9,19,29,39,49,59,69,79,89]}},"y2":{"datum":-1},
              "color":{"field":"g","type":"nominal","scale":{"domain":["HC","AC","SP","SPS","SPSL","SMP"],"range":["#5b9bd5","#a5a5a5","#ffc000","#ed7d31","#70ad47","#4472c4"]},"legend":null}}},
            {"mark":{"type":"bar","fill":{"expr":"datum.g=='AC'?{gradient:'linear',x1:0,y1:0,x2:12.592,y2:0,stops:st}:datum.g=='SPSL'?{gradient:'linear',x1:0,y1:0,x2:0,y2:370/((datum.m+1)*2.27),stops:st}:datum.g=='SP'?{gradient:'linear',x1:0,y1:0,x2:11515/(530.4+pow((datum.m+1)*2.27,2)),y2:500*((datum.m+1)*2.27)/(530.4+pow((datum.m+1)*2.27,2)),stops:st}:datum.g=='SPS'?{gradient:'linear',x1:1,y1:0,x2:1-11515/(530.4+pow((datum.m+1)*2.27,2)),y2:500*((datum.m+1)*2.27)/(530.4+pow((datum.m+1)*2.27,2)),stops:st}:'transparent'"}},
              "encoding":{"y":{"field":"m","type":"quantitative","scale":{"domain":[-11,89],"nice":false,"zero":false}},"y2":{"datum":-1}}},
            {"mark":{"type":"rule","color":"#7f7f7f","strokeWidth":1.2},"encoding":{"y":{"field":"lo","type":"quantitative","scale":{"domain":[-11,89],"nice":false,"zero":false}},"y2":{"field":"hi"}}},
            {"mark":{"type":"tick","color":"#7f7f7f","size":6,"thickness":1.2},"encoding":{"y":{"field":"lo","type":"quantitative","scale":{"domain":[-11,89],"nice":false,"zero":false}}}},
            {"mark":{"type":"tick","color":"#7f7f7f","size":6,"thickness":1.2},"encoding":{"y":{"field":"hi","type":"quantitative","scale":{"domain":[-11,89],"nice":false,"zero":false}}}}
          ]
        },
        {
          "width": 186, "height": 226,
          "data": {"values": [
            {"g":"HC","m":165.4,"lo":155.6,"hi":176.3},
            {"g":"AC","m":161.7,"lo":148.0,"hi":176.3},
            {"g":"SP","m":158.0,"lo":140.0,"hi":175.8},
            {"g":"SPS","m":160.1,"lo":146.4,"hi":173.9},
            {"g":"SPSL","m":151.1,"lo":128.4,"hi":175.2},
            {"g":"SMP","m":159.9,"lo":143.2,"hi":176.8}
          ]},
          "encoding": {"x": {"field":"g","type":"nominal","scale":{"domain":["HC","AC","SP","SPS","SPSL","SMP"],"paddingInner":0.04,"paddingOuter":1},"axis":{"title":"NECK ANGLE"}}},
          "layer": [
            {"mark":"bar","encoding":{"y":{"field":"m","type":"quantitative","scale":{"domain":[0,180],"nice":false},"axis":{"title":"degrees","format":".10~g","values":[0,20,40,60,80,100,120,140,160,180]}},
              "color":{"field":"g","type":"nominal","scale":{"domain":["HC","AC","SP","SPS","SPSL","SMP"],"range":["#5b9bd5","#a5a5a5","#ffc000","#ed7d31","#70ad47","#4472c4"]},"legend":null}}},
            {"mark":{"type":"bar","fill":{"expr":"datum.g=='AC'?{gradient:'linear',x1:0,y1:0,x2:12.929,y2:0,stops:st}:datum.g=='SPSL'?{gradient:'linear',x1:0,y1:0,x2:0,y2:370/(datum.m*1.2556),stops:st}:datum.g=='SP'?{gradient:'linear',x1:0,y1:0,x2:11215/(503.1+pow(datum.m*1.2556,2)),y2:500*(datum.m*1.2556)/(503.1+pow(datum.m*1.2556,2)),stops:st}:datum.g=='SPS'?{gradient:'linear',x1:1,y1:0,x2:1-11215/(503.1+pow(datum.m*1.2556,2)),y2:500*(datum.m*1.2556)/(503.1+pow(datum.m*1.2556,2)),stops:st}:'transparent'"}},
              "encoding":{"y":{"field":"m","type":"quantitative","scale":{"domain":[0,180],"nice":false}}}},
            {"mark":{"type":"rule","color":"#7f7f7f","strokeWidth":1.2},"encoding":{"y":{"field":"lo","type":"quantitative","scale":{"domain":[0,180],"nice":false}},"y2":{"field":"hi"}}},
            {"mark":{"type":"tick","color":"#7f7f7f","size":6,"thickness":1.2},"encoding":{"y":{"field":"lo","type":"quantitative","scale":{"domain":[0,180],"nice":false}}}},
            {"mark":{"type":"tick","color":"#7f7f7f","size":6,"thickness":1.2},"encoding":{"y":{"field":"hi","type":"quantitative","scale":{"domain":[0,180],"nice":false}}}}
          ]
        },
        {
          "width": 190, "height": 223,
          "data": {"values": [
            {"g":"HC","m":170.6,"lo":165.2,"hi":177.0},
            {"g":"AC","m":167.9,"lo":159.3,"hi":177.0},
            {"g":"SP","m":165.2,"lo":153.9,"hi":177.0},
            {"g":"SPS","m":166.8,"lo":158.2,"hi":176.2},
            {"g":"SPSL","m":160.9,"lo":146.1,"hi":177.0},
            {"g":"SMP","m":167.1,"lo":157.1,"hi":176.5}
          ]},
          "encoding": {"x": {"field":"g","type":"nominal","scale":{"domain":["HC","AC","SP","SPS","SPSL","SMP"],"paddingInner":0.04,"paddingOuter":1},"axis":{"title":"SPINE SHOULDER ANGLE"}}},
          "layer": [
            {"mark":"bar","encoding":{"y":{"field":"m","type":"quantitative","scale":{"domain":[0,180],"nice":false},"axis":{"title":"degrees","format":".10~g","values":[0,20,40,60,80,100,120,140,160,180]}},
              "color":{"field":"g","type":"nominal","scale":{"domain":["HC","AC","SP","SPS","SPSL","SMP"],"range":["#5b9bd5","#a5a5a5","#ffc000","#ed7d31","#70ad47","#4472c4"]},"legend":null}}},
            {"mark":{"type":"bar","fill":{"expr":"datum.g=='AC'?{gradient:'linear',x1:0,y1:0,x2:12.658,y2:0,stops:st}:datum.g=='SPSL'?{gradient:'linear',x1:0,y1:0,x2:0,y2:370/(datum.m*1.2389),stops:st}:datum.g=='SP'?{gradient:'linear',x1:0,y1:0,x2:11455/(524.9+pow(datum.m*1.2389,2)),y2:500*(datum.m*1.2389)/(524.9+pow(datum.m*1.2389,2)),stops:st}:datum.g=='SPS'?{gradient:'linear',x1:1,y1:0,x2:1-11455/(524.9+pow(datum.m*1.2389,2)),y2:500*(datum.m*1.2389)/(524.9+pow(datum.m*1.2389,2)),stops:st}:'transparent'"}},
              "encoding":{"y":{"field":"m","type":"quantitative","scale":{"domain":[0,180],"nice":false}}}},
            {"mark":{"type":"rule","color":"#7f7f7f","strokeWidth":1.2},"encoding":{"y":{"field":"lo","type":"quantitative","scale":{"domain":[0,180],"nice":false}},"y2":{"field":"hi"}}},
            {"mark":{"type":"tick","color":"#7f7f7f","size":6,"thickness":1.2},"encoding":{"y":{"field":"lo","type":"quantitative","scale":{"domain":[0,180],"nice":false}}}},
            {"mark":{"type":"tick","color":"#7f7f7f","size":6,"thickness":1.2},"encoding":{"y":{"field":"hi","type":"quantitative","scale":{"domain":[0,180],"nice":false}}}}
          ]
        },
        {
          "width": 200, "height": 216,
          "data": {"values": [
            {"g":"HC","m":175.0,"lo":173.4,"hi":177.8},
            {"g":"AC","m":174.5,"lo":172.0,"hi":177.0},
            {"g":"SP","m":173.1,"lo":170.3,"hi":176.7},
            {"g":"SPS","m":173.6,"lo":170.3,"hi":177.0},
            {"g":"SPSL","m":172.3,"lo":168.7,"hi":176.1},
            {"g":"SMP","m":173.4,"lo":170.0,"hi":176.7}
          ]},
          "encoding": {"x": {"field":"g","type":"nominal","scale":{"domain":["HC","AC","SP","SPS","SPSL","SMP"],"paddingInner":0.04,"paddingOuter":1},"axis":{"title":"SPINE MIDDLE ANGLE"}}},
          "layer": [
            {"mark":"bar","encoding":{"y":{"field":"m","type":"quantitative","scale":{"domain":[0,180],"nice":false},"axis":{"title":"degrees","format":".10~g","values":[0,20,40,60,80,100,120,140,160,180]}},
              "color":{"field":"g","type":"nominal","scale":{"domain":["HC","AC","SP","SPS","SPSL","SMP"],"range":["#5b9bd5","#a5a5a5","#ffc000","#ed7d31","#70ad47","#4472c4"]},"legend":null}}},
            {"mark":{"type":"bar","fill":{"expr":"datum.g=='AC'?{gradient:'linear',x1:0,y1:0,x2:12.023,y2:0,stops:st}:datum.g=='SPSL'?{gradient:'linear',x1:0,y1:0,x2:0,y2:370/(datum.m*1.2),stops:st}:datum.g=='SP'?{gradient:'linear',x1:0,y1:0,x2:12060/(581.8+pow(datum.m*1.2,2)),y2:500*(datum.m*1.2)/(581.8+pow(datum.m*1.2,2)),stops:st}:datum.g=='SPS'?{gradient:'linear',x1:1,y1:0,x2:1-12060/(581.8+pow(datum.m*1.2,2)),y2:500*(datum.m*1.2)/(581.8+pow(datum.m*1.2,2)),stops:st}:'transparent'"}},
              "encoding":{"y":{"field":"m","type":"quantitative","scale":{"domain":[0,180],"nice":false}}}},
            {"mark":{"type":"rule","color":"#7f7f7f","strokeWidth":1.2},"encoding":{"y":{"field":"lo","type":"quantitative","scale":{"domain":[0,180],"nice":false}},"y2":{"field":"hi"}}},
            {"mark":{"type":"tick","color":"#7f7f7f","size":6,"thickness":1.2},"encoding":{"y":{"field":"lo","type":"quantitative","scale":{"domain":[0,180],"nice":false}}}},
            {"mark":{"type":"tick","color":"#7f7f7f","size":6,"thickness":1.2},"encoding":{"y":{"field":"hi","type":"quantitative","scale":{"domain":[0,180],"nice":false}}}}
          ]
        }
      ]
    }
      ]
    },
    {
      "spacing": 15,
      "resolve": {"scale": {"x": "independent", "y": "independent"}},
      "hconcat": [
        {"width": 94, "height": 209, "data": {"values": []}, "mark": "point"},
        {
          "width": 174, "height": 209,
          "data": {"values": [
            {"g":"HC","m":174.0,"lo":171.7,"hi":177.4},
            {"g":"AC","m":176.3,"lo":173.7,"hi":179.1},
            {"g":"SP","m":174.6,"lo":171.7,"hi":178.6},
            {"g":"SPS","m":174.3,"lo":171.4,"hi":177.7},
            {"g":"SPSL","m":174.3,"lo":170.9,"hi":178.3},
            {"g":"SMP","m":176.0,"lo":172.9,"hi":179.1}
          ]},
          "encoding": {"x": {"field":"g","type":"nominal","scale":{"domain":["HC","AC","SP","SPS","SPSL","SMP"],"paddingInner":0.04,"paddingOuter":1},"axis":{"title":"MAXIMUM KNEE ANGLE"}}},
          "layer": [
            {"mark":"bar","encoding":{"y":{"field":"m","type":"quantitative","scale":{"domain":[0,180],"nice":false},"axis":{"title":"degrees","format":".10~g","values":[0,20,40,60,80,100,120,140,160,180]}},
              "color":{"field":"g","type":"nominal","scale":{"domain":["HC","AC","SP","SPS","SPSL","SMP"],"range":["#5b9bd5","#a5a5a5","#ffc000","#ed7d31","#70ad47","#4472c4"]},"legend":null}}},
            {"mark":{"type":"bar","fill":{"expr":"datum.g=='AC'?{gradient:'linear',x1:0,y1:0,x2:13.823,y2:0,stops:st}:datum.g=='SPSL'?{gradient:'linear',x1:0,y1:0,x2:0,y2:370/(datum.m*1.1611),stops:st}:datum.g=='SP'?{gradient:'linear',x1:0,y1:0,x2:10490/(440.2+pow(datum.m*1.1611,2)),y2:500*(datum.m*1.1611)/(440.2+pow(datum.m*1.1611,2)),stops:st}:datum.g=='SPS'?{gradient:'linear',x1:1,y1:0,x2:1-10490/(440.2+pow(datum.m*1.1611,2)),y2:500*(datum.m*1.1611)/(440.2+pow(datum.m*1.1611,2)),stops:st}:'transparent'"}},
              "encoding":{"y":{"field":"m","type":"quantitative","scale":{"domain":[0,180],"nice":false}}}},
            {"mark":{"type":"rule","color":"#7f7f7f","strokeWidth":1.2},"encoding":{"y":{"field":"lo","type":"quantitative","scale":{"domain":[0,180],"nice":false}},"y2":{"field":"hi"}}},
            {"mark":{"type":"tick","color":"#7f7f7f","size":6,"thickness":1.2},"encoding":{"y":{"field":"lo","type":"quantitative","scale":{"domain":[0,180],"nice":false}}}},
            {"mark":{"type":"tick","color":"#7f7f7f","size":6,"thickness":1.2},"encoding":{"y":{"field":"hi","type":"quantitative","scale":{"domain":[0,180],"nice":false}}}}
          ]
        },
        {
          "width": 178, "height": 209,
          "data": {"values": [
            {"g":"HC","m":19.2,"lo":12.3,"hi":26.4},
            {"g":"AC","m":18.9,"lo":11.5,"hi":26.5},
            {"g":"SP","m":17.1,"lo":10.3,"hi":24.0},
            {"g":"SPS","m":17.35,"lo":10.2,"hi":24.6},
            {"g":"SPSL","m":16.0,"lo":10.3,"hi":21.8},
            {"g":"SMP","m":18.35,"lo":11.3,"hi":25.5}
          ]},
          "encoding": {"x": {"field":"g","type":"nominal","scale":{"domain":["HC","AC","SP","SPS","SPSL","SMP"],"paddingInner":0.04,"paddingOuter":1},"axis":{"title":"HIP ANGLE RANGE"}}},
          "layer": [
            {"mark":"bar","encoding":{"y":{"field":"m","type":"quantitative","scale":{"domain":[0,30],"nice":false},"axis":{"title":"degrees","format":".10~g","values":[0,5,10,15,20,25,30]}},
              "color":{"field":"g","type":"nominal","scale":{"domain":["HC","AC","SP","SPS","SPSL","SMP"],"range":["#5b9bd5","#a5a5a5","#ffc000","#ed7d31","#70ad47","#4472c4"]},"legend":null}}},
            {"mark":{"type":"bar","fill":{"expr":"datum.g=='AC'?{gradient:'linear',x1:0,y1:0,x2:13.507,y2:0,stops:st}:datum.g=='SPSL'?{gradient:'linear',x1:0,y1:0,x2:0,y2:370/(datum.m*6.967),stops:st}:datum.g=='SP'?{gradient:'linear',x1:0,y1:0,x2:10735/(461+pow(datum.m*6.967,2)),y2:500*(datum.m*6.967)/(461+pow(datum.m*6.967,2)),stops:st}:datum.g=='SPS'?{gradient:'linear',x1:1,y1:0,x2:1-10735/(461+pow(datum.m*6.967,2)),y2:500*(datum.m*6.967)/(461+pow(datum.m*6.967,2)),stops:st}:'transparent'"}},
              "encoding":{"y":{"field":"m","type":"quantitative","scale":{"domain":[0,30],"nice":false}}}},
            {"mark":{"type":"rule","color":"#7f7f7f","strokeWidth":1.2},"encoding":{"y":{"field":"lo","type":"quantitative","scale":{"domain":[0,30],"nice":false}},"y2":{"field":"hi"}}},
            {"mark":{"type":"tick","color":"#7f7f7f","size":6,"thickness":1.2},"encoding":{"y":{"field":"lo","type":"quantitative","scale":{"domain":[0,30],"nice":false}}}},
            {"mark":{"type":"tick","color":"#7f7f7f","size":6,"thickness":1.2},"encoding":{"y":{"field":"hi","type":"quantitative","scale":{"domain":[0,30],"nice":false}}}}
          ]
        },
        {
          "width": 183, "height": 209,
          "data": {"values": [
            {"g":"HC","m":33.5,"lo":17.1,"hi":50.1},
            {"g":"AC","m":27.8,"lo":10.3,"hi":45.5},
            {"g":"SP","m":20.6,"lo":4.6,"hi":36.7},
            {"g":"SPS","m":17.6,"lo":13.5,"hi":21.8},
            {"g":"SPSL","m":22.2,"lo":6.2,"hi":38.0},
            {"g":"SMP","m":30.2,"lo":11.9,"hi":48.7}
          ]},
          "encoding": {"x": {"field":"g","type":"nominal","scale":{"domain":["HC","AC","SP","SPS","SPSL","SMP"],"paddingInner":0.04,"paddingOuter":1},"axis":{"title":"ANKLE ANGLE RANGE"}}},
          "layer": [
            {"mark":"bar","encoding":{"y":{"field":"m","type":"quantitative","scale":{"domain":[0,50],"nice":false},"axis":{"title":"degrees","format":".10~g","values":[0,10,20,30,40,50]}},
              "color":{"field":"g","type":"nominal","scale":{"domain":["HC","AC","SP","SPS","SPSL","SMP"],"range":["#5b9bd5","#a5a5a5","#ffc000","#ed7d31","#70ad47","#4472c4"]},"legend":null}}},
            {"mark":{"type":"bar","fill":{"expr":"datum.g=='AC'?{gradient:'linear',x1:0,y1:0,x2:13.14,y2:0,stops:st}:datum.g=='SPSL'?{gradient:'linear',x1:0,y1:0,x2:0,y2:370/(datum.m*4.18),stops:st}:datum.g=='SP'?{gradient:'linear',x1:0,y1:0,x2:11035/(487.1+pow(datum.m*4.18,2)),y2:500*(datum.m*4.18)/(487.1+pow(datum.m*4.18,2)),stops:st}:datum.g=='SPS'?{gradient:'linear',x1:1,y1:0,x2:1-11035/(487.1+pow(datum.m*4.18,2)),y2:500*(datum.m*4.18)/(487.1+pow(datum.m*4.18,2)),stops:st}:'transparent'"}},
              "encoding":{"y":{"field":"m","type":"quantitative","scale":{"domain":[0,50],"nice":false}}}},
            {"mark":{"type":"rule","color":"#7f7f7f","strokeWidth":1.2},"encoding":{"y":{"field":"lo","type":"quantitative","scale":{"domain":[0,50],"nice":false}},"y2":{"field":"hi"}}},
            {"mark":{"type":"tick","color":"#7f7f7f","size":6,"thickness":1.2},"encoding":{"y":{"field":"lo","type":"quantitative","scale":{"domain":[0,50],"nice":false}}}},
            {"mark":{"type":"tick","color":"#7f7f7f","size":6,"thickness":1.2},"encoding":{"y":{"field":"hi","type":"quantitative","scale":{"domain":[0,50],"nice":false}}}}
          ]
        }
      ]
    }
  ]
}
